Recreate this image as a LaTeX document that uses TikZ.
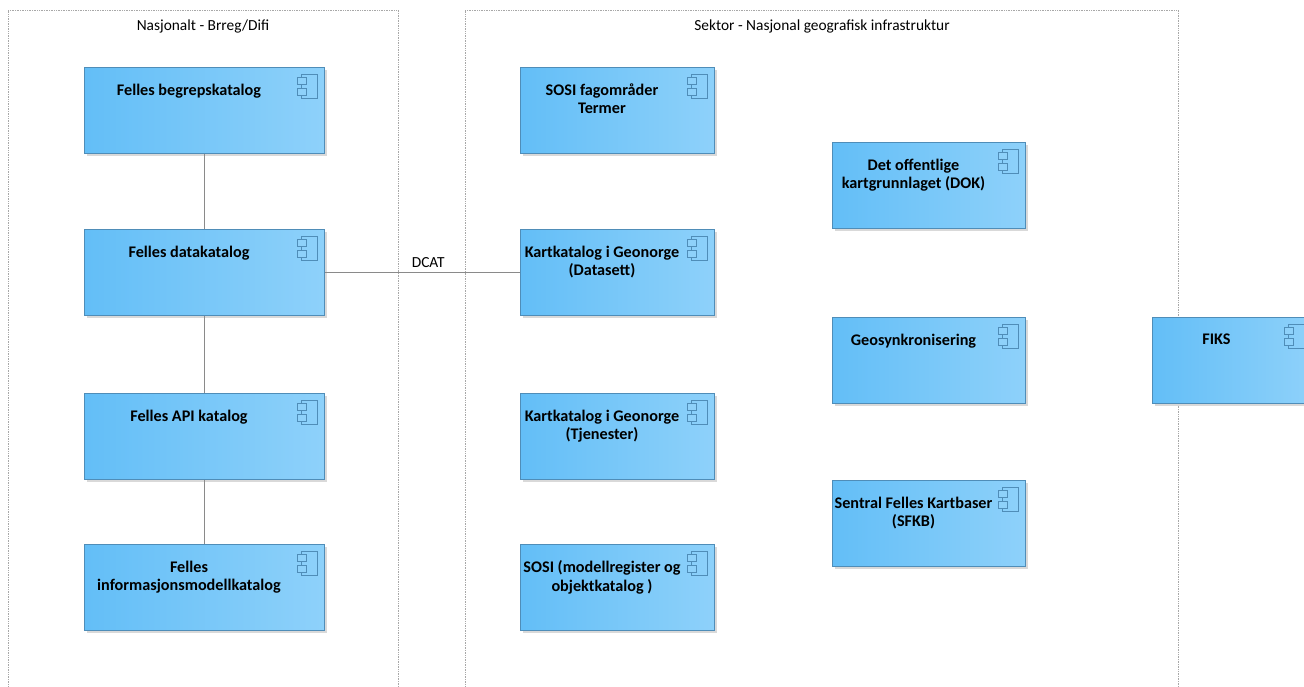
\documentclass[tikz,border=0pt]{standalone}
\usepackage{fontspec}
\setmainfont{Carlito}
\usetikzlibrary{calc,shadows}
\definecolor{boxL}{HTML}{63BEF7}
\definecolor{boxR}{HTML}{8ED1FA}
\definecolor{boxB}{HTML}{4F8DB8}
\definecolor{frameC}{HTML}{A8A8A8}
\definecolor{linkC}{HTML}{8A8A8A}
\tikzset{
  comp/.style={rectangle, draw=boxB, line width=0.8pt, left color=boxL, right color=boxR,
    anchor=north west, minimum height=86pt, inner sep=0pt,
    general shadow={fill=black!15, shadow xshift=3pt, shadow yshift=-3pt}},
  comptext/.style={anchor=north, align=center, font=\fontsize{16.2}{18.5}\selectfont\bfseries, inner sep=0pt, text=black},
  iconline/.style={draw=boxB, line width=0.7pt},
  frame/.style={draw=frameC, densely dotted, line width=0.7pt},
  link/.style={draw=linkC, line width=0.8pt},
  labeltext/.style={font=\fontsize{15.4}{18}\selectfont, inner sep=0pt},
}
\newcommand{\compbox}[5]{% name, x, y, width, text
  \node[comp, minimum width=#4pt] (#1) at (#2,#3) {};
  \node[comptext] (#1t) at ($(#1.north west)+({(#4-30)/2},16.5)$) {#5};
  \draw[iconline] ($(#1.north east)+(-23,7)$) rectangle ++(16,24);
  \filldraw[iconline, fill=boxR] ($(#1.north east)+(-27,10)$) rectangle ++(9,7);
  \filldraw[iconline, fill=boxR] ($(#1.north east)+(-27,21)$) rectangle ++(9,7);
}
\begin{document}
\begin{tikzpicture}[x=1pt, y=-1pt]
\useasboundingbox (0,0) rectangle (1304,687);
\fill[white] (0,0) rectangle (1304,687);
% frames
\draw[frame] (8,700) -- (8,10) -- (398,10) -- (398,700);
\draw[frame] (465,700) -- (465,10) -- (1178,10) -- (1178,700);
\node[labeltext] (t1) at (203,26.5) {Nasjonalt - Brreg/Difi};
\node[labeltext] (t2) at (822,26.5) {Sektor - Nasjonal geografisk infrastruktur};
% left column
\compbox{l1}{84}{67}{240}{Felles begrepskatalog}
\compbox{l2}{84}{229}{240}{Felles datakatalog}
\compbox{l3}{84}{393}{240}{Felles API katalog}
\compbox{l4}{84}{544}{240}{Felles\\informasjonsmodellkatalog}
% middle column
\compbox{m1}{520}{67}{194}{SOSI fagområder\\Termer}
\compbox{m2}{520}{229}{194}{Kartkatalog i Geonorge\\(Datasett)}
\compbox{m3}{520}{393}{194}{Kartkatalog i Geonorge\\(Tjenester)}
\compbox{m4}{520}{544}{194}{SOSI (modellregister og\\objektkatalog )}
% right column
\compbox{r1}{832}{142}{193}{Det offentlige\\kartgrunnlaget (DOK)}
\compbox{r2}{832}{317}{193}{Geosynkronisering}
\compbox{r3}{832}{480}{193}{Sentral Felles Kartbaser\\(SFKB)}
\compbox{fiks}{1152}{317}{159}{FIKS}
% connectors
\draw[link] (l1.south) -- (l2.north);
\draw[link] (l2.south) -- (l3.north);
\draw[link] (l3.south) -- (l4.north);
\draw[link] (l2.east) -- node[pos=0.53, above=4pt, labeltext] (dcat) {DCAT} (m2.west);
\end{tikzpicture}
\end{document}
